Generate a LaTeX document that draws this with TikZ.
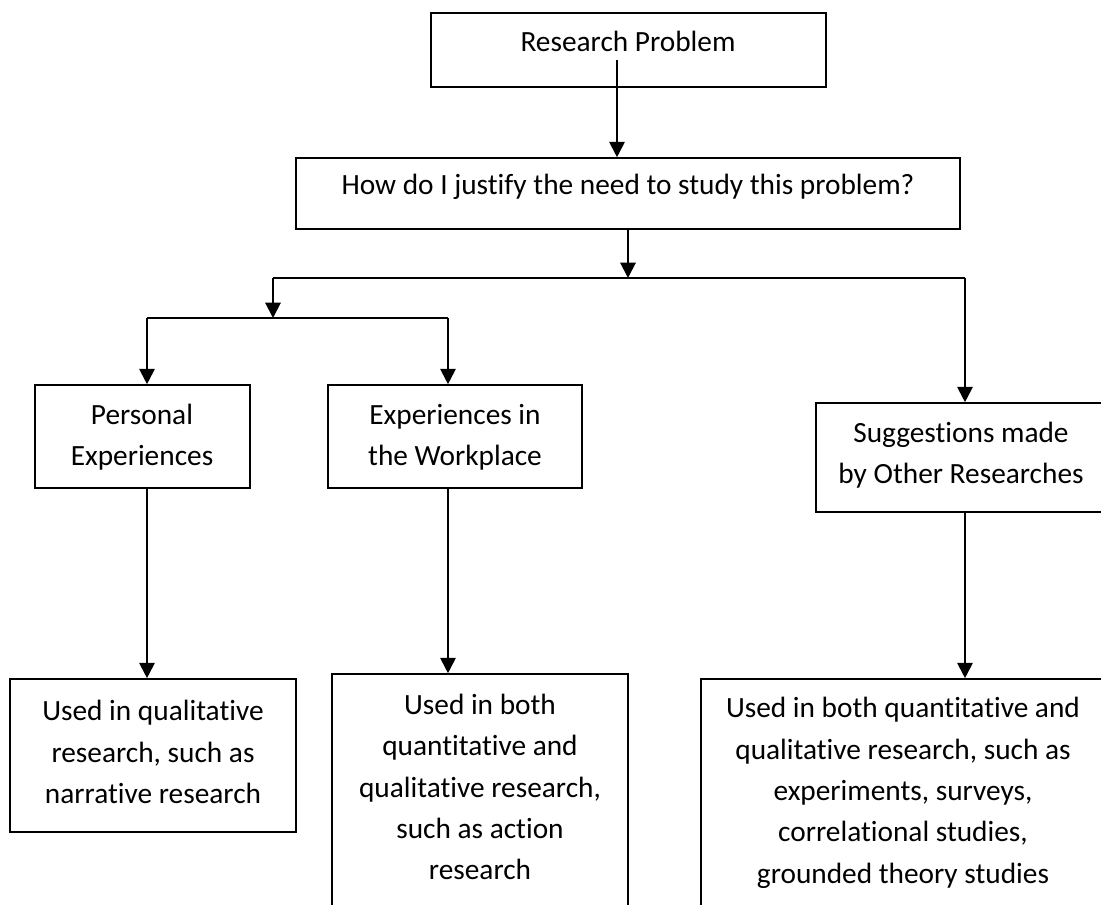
\documentclass[tikz,border=0pt]{standalone}
\usepackage{fontspec}
\setmainfont{Carlito}[Ligatures=NoCommon]
\usetikzlibrary{arrows.meta}
\tikzset{
  bx/.style={draw, line width=1.2pt, inner sep=0pt, fill=white},
  lbl/.style={inner sep=0pt, align=center, font=\fontsize{22}{31}\selectfont},
  ln/.style={line width=1.5pt},
  arr/.style={line width=1.5pt, -{Triangle[length=11.5pt,width=11.5pt]}}
}
\begin{document}
\begin{tikzpicture}[x=0.75pt,y=-0.75pt]
\useasboundingbox (0,0) rectangle (1101,905);
\fill[white] (0,0) rectangle (1101,905);
\clip (0,0) rectangle (1101,905);
% boxes
\node[bx, minimum width=395*0.75pt, minimum height=74*0.75pt] (rpb) at (628.5,50) {};
\node[bx, minimum width=664*0.75pt, minimum height=71*0.75pt] (qb) at (628,193.5) {};
\node[bx, minimum width=215*0.75pt, minimum height=103*0.75pt] (peb) at (142.5,436.5) {};
\node[bx, minimum width=254*0.75pt, minimum height=103*0.75pt] (wpb) at (455,436.5) {};
\node[bx, minimum width=290*0.75pt, minimum height=109*0.75pt] (sgb) at (961,457.5) {};
\node[bx, minimum width=286*0.75pt, minimum height=153*0.75pt] (b1b) at (153,755.5) {};
\node[bx, minimum width=296*0.75pt, minimum height=266*0.75pt] (b2b) at (480,807) {};
\node[bx, minimum width=404*0.75pt, minimum height=261*0.75pt] (b3b) at (903,809.5) {};
% texts
\node[lbl, anchor=base] (rp) at (628,52) {Research Problem};
\node[lbl, anchor=base] (q) at (628,195) {How do I justify the need to study this problem?};
\node[lbl] (pe) at (142,437) {Personal\\Experiences};
\node[lbl] (wp) at (455,437) {Experiences in\\the Workplace};
\node[lbl] (sg) at (961,455.5) {Suggestions made\\by Other Researches};
\node[lbl] (b1) at (153,752) {Used in qualitative\\research, such as\\narrative research};
\node[lbl] (b2) at (480,787) {Used in both\\quantitative and\\qualitative research,\\such as action\\research};
\node[lbl] (b3) at (903,793) {Used in both quantitative and\\qualitative research, such as\\experiments, surveys,\\correlational studies,\\grounded theory studies};
% junction coordinates
\coordinate (s1) at (617,60);
\coordinate (j1) at (628,278);
\coordinate (jl) at (273,278);
\coordinate (jr) at (965,278);
\coordinate (j2) at (273,318);
\coordinate (j2l) at (147,318);
\coordinate (j2r) at (448,318);
% connectors
\draw[arr] (s1) -- (s1 |- qb.north);
\draw[arr] (qb.south) -- (j1);
\draw[ln] (jl) -- (jr);
\draw[arr] (jl) -- (j2);
\draw[ln] (j2l) -- (j2r);
\draw[arr] (j2l) -- (j2l |- peb.north);
\draw[arr] (j2r) -- (j2r |- wpb.north);
\draw[arr] (jr) -- (jr |- sgb.north);
\draw[arr] (j2l |- peb.south) -- (j2l |- b1b.north);
\draw[arr] (j2r |- wpb.south) -- (j2r |- b2b.north);
\draw[arr] (jr |- sgb.south) -- (jr |- b3b.north);
\end{tikzpicture}
\end{document}
